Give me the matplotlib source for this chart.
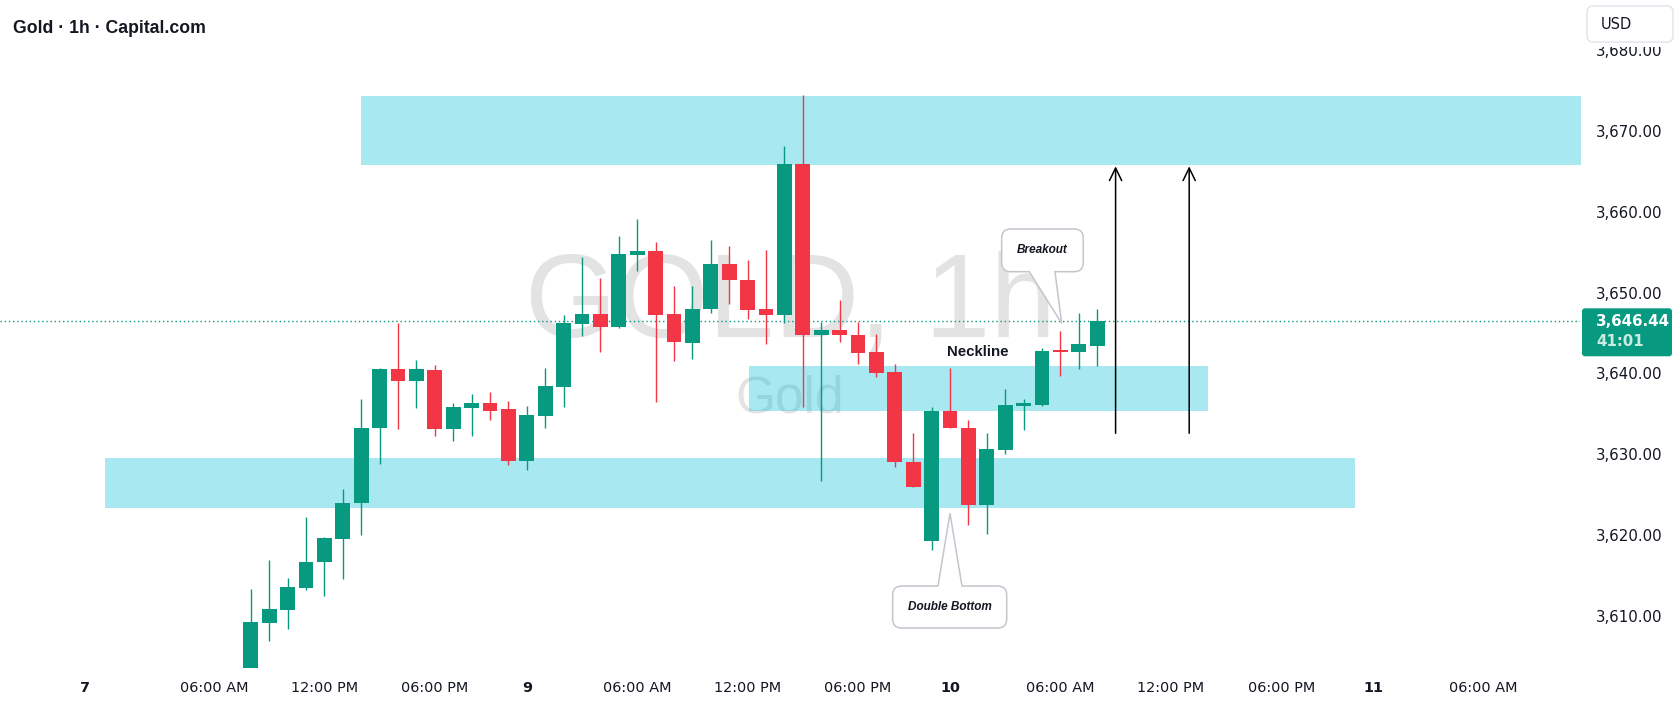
"""
Gold 1h chart with double bottom / neckline breakout annotations.
"""

import numpy as np
import matplotlib.pyplot as plt
import matplotlib.transforms as mtransforms
from matplotlib.path import Path
from matplotlib.patches import PathPatch, FancyBboxPatch, Rectangle

plt.rcParams["font.family"] = "DejaVu Sans"

W, H, DPI = 1680, 710, 100
GREEN = "#089981"
RED = "#F23645"
TEXT = "#131722"
ZONE = "#00BCD4"
CALLOUT_EDGE = "#c4c6ce"

# hourly candles, first bar = 08:00 on the 8th
opens = [3602.5, 3609.1, 3610.7, 3613.5, 3616.7, 3619.5, 3624.0, 3633.2, 3640.5, 3639.0,
         3640.4, 3633.1, 3635.7, 3636.4, 3635.6, 3629.2, 3634.7, 3638.3, 3646.1, 3647.4,
         3645.7, 3654.6, 3655.1, 3647.3, 3643.8, 3647.9, 3653.5, 3651.6, 3647.9, 3647.2,
         3665.9, 3644.7, 3645.4, 3644.8, 3642.6, 3640.2, 3629.1, 3619.3, 3635.3, 3633.3,
         3623.7, 3630.5, 3636.0, 3636.1, 3642.8, 3642.6, 3643.4]
highs = [3613.4, 3616.9, 3614.7, 3622.3, 3619.8, 3625.7, 3636.8, 3640.7, 3646.2, 3641.6,
         3641.0, 3636.4, 3637.5, 3637.7, 3636.6, 3636.0, 3640.7, 3647.2, 3654.4, 3651.8,
         3657.0, 3659.1, 3656.2, 3650.8, 3650.8, 3656.5, 3655.8, 3654.0, 3655.2, 3668.1,
         3674.4, 3646.3, 3649.1, 3646.3, 3644.9, 3641.1, 3632.6, 3635.8, 3640.7, 3634.3,
         3632.6, 3638.1, 3636.8, 3643.1, 3645.2, 3647.5, 3647.9]
lows = [3601.5, 3606.9, 3608.4, 3613.2, 3612.5, 3614.6, 3620.0, 3628.8, 3633.1, 3635.7,
        3632.3, 3631.7, 3632.3, 3634.3, 3628.7, 3628.1, 3633.3, 3635.8, 3644.6, 3642.6,
        3645.6, 3652.6, 3636.5, 3641.5, 3641.8, 3647.5, 3648.6, 3646.7, 3643.6, 3646.2,
        3635.9, 3626.7, 3643.9, 3641.1, 3639.6, 3628.4, 3626.0, 3618.2, 3633.2, 3621.3,
        3620.1, 3630.0, 3633.0, 3636.0, 3639.7, 3640.6, 3640.9]
closes = [3609.25, 3610.9, 3613.6, 3616.7, 3619.7, 3624.0, 3633.3, 3640.5, 3639.0, 3640.5,
          3633.1, 3635.8, 3636.4, 3635.3, 3629.2, 3634.8, 3638.4, 3646.2, 3647.4, 3645.7,
          3654.8, 3655.1, 3647.2, 3643.9, 3648.0, 3653.5, 3651.5, 3647.8, 3647.2, 3665.9,
          3644.7, 3645.4, 3644.7, 3642.5, 3640.1, 3629.1, 3626.0, 3635.3, 3633.2, 3623.7,
          3630.6, 3636.1, 3636.3, 3642.8, 3642.7, 3643.6, 3646.44]
last_price = 3646.44
countdown = "41:01"

tick_pos = [-9, -2, 4, 10, 15, 21, 27, 33, 38, 44, 50, 56, 61, 67]
tick_labels = ["7", "06:00 AM", "12:00 PM", "06:00 PM", "9", "06:00 AM", "12:00 PM",
               "06:00 PM", "10", "06:00 AM", "12:00 PM", "06:00 PM", "11", "06:00 AM"]
day_labels = ["7", "9", "10", "11"]
price_ticks = [3610, 3620, 3630, 3640, 3650, 3660, 3670, 3680]

# supply / neckline / demand zones
zone_x0 = [6.0, 27.05, -7.9]
zone_x1 = [80.0, 52.0, 60.0]
zone_lo = [3665.8, 3635.3, 3623.3]
zone_hi = [3674.25, 3640.9, 3629.5]

target_x = [47, 51]
target_from = 3632.6
target_to = 3665.6


def callout_path(cx, cy, w, h, r, b0, b1, side):
    # rounded box with a pointer whose tip sits at (0, 0); units are pixels
    l, rt, b, t = cx - w / 2, cx + w / 2, cy - h / 2, cy + h / 2
    verts = [(l + r, b)]
    codes = [Path.MOVETO]
    if side == "bottom":
        verts += [(b0, b), (0, 0), (b1, b)]
        codes += [Path.LINETO] * 3
    verts += [(rt - r, b), (rt, b), (rt, b + r), (rt, t - r), (rt, t), (rt - r, t)]
    codes += [Path.LINETO, Path.CURVE3, Path.CURVE3, Path.LINETO, Path.CURVE3, Path.CURVE3]
    if side == "top":
        verts += [(b1, t), (0, 0), (b0, t)]
        codes += [Path.LINETO] * 3
    verts += [(l + r, t), (l, t), (l, t - r), (l, b + r), (l, b), (l + r, b), (l + r, b)]
    codes += [Path.LINETO, Path.CURVE3, Path.CURVE3, Path.LINETO, Path.CURVE3, Path.CURVE3,
              Path.CLOSEPOLY]
    return Path(verts, codes)


def pixel_anchor(fig, x, y, base):
    return mtransforms.Affine2D().scale(fig.dpi / 100.0) + mtransforms.ScaledTranslation(x, y, base)


fig = plt.figure(figsize=(W / DPI, H / DPI), dpi=DPI)
ax = fig.add_axes([0, 42 / H, 1580 / W, 668 / H])

n = len(opens)
idx = np.arange(n)
o, hi, lo, c = map(np.array, (opens, highs, lows, closes))
up = c >= o
colors = np.where(up, GREEN, RED)

# watermark
ax.text(0.5, 0.496, "GOLD, 1h", transform=ax.transAxes, ha="center", va="baseline",
        fontsize=85, family="Liberation Sans", color="#e3e3e3", zorder=0)
ax.text(0.5, 0.382, "Gold", transform=ax.transAxes, ha="center", va="baseline",
        fontsize=37, family="Liberation Sans", color="#e3e3e3", zorder=0)

for x0, x1, y0, y1 in zip(zone_x0, zone_x1, zone_lo, zone_hi):
    ax.fill_between([x0, x1], y0, y1, color=ZONE, alpha=0.34, linewidth=0, zorder=1)

ax.axhline(last_price, color=GREEN, lw=1.0, linestyle=(0, (1, 2)), zorder=2)

# candles
ax.vlines(idx, lo, hi, colors=colors, lw=1.0, zorder=3)
body_lo = np.minimum(o, c)
body_h = np.maximum(np.abs(c - o), 0.15)
ax.bar(idx, body_h, bottom=body_lo, width=0.8, color=colors, linewidth=0, zorder=4)

# measured move arrows
for tx in target_x:
    ax.annotate("", xy=(tx, target_to), xytext=(tx, target_from),
                arrowprops=dict(arrowstyle="->,head_length=0.45,head_width=0.22",
                                color="black", lw=1.1, mutation_scale=20,
                                shrinkA=0, shrinkB=0), zorder=5)

ax.text(39.51, 3642.7, "Neckline", ha="center", va="center", fontsize=10.8,
        family="Liberation Sans", fontweight="bold", color=TEXT, zorder=6)

# callouts: tip in data coords, box offset/size in pixels
callouts = [
    ("Breakout", 44.07, 3646.2, -19.2, 72.9, 81.6, 42.7, -32.4, -6.7, "bottom"),
    ("Double Bottom", 38.0, 3622.7, -0.3, -93.7, 114.0, 42.0, -12.0, 12.0, "top"),
]
for label, tx, ty, dx, dy, bw, bh, b0, b1, side in callouts:
    tr = pixel_anchor(fig, tx, ty, ax.transData)
    path = callout_path(dx, dy, bw, bh, 9, b0, b1, side)
    ax.add_patch(PathPatch(path, transform=tr, facecolor="white", edgecolor=CALLOUT_EDGE,
                           lw=1.1, zorder=7, clip_on=False))
    ax.annotate(label, xy=(tx, ty), xytext=(dx * 0.72, dy * 0.72), textcoords="offset points",
                ha="center", va="center", fontsize=8.5, family="Liberation Sans",
                fontstyle="italic", fontweight="bold", color=TEXT, zorder=8)

ax.set_xlim(-13.63, 72.24)
ax.set_ylim(3603.58, 3686.16)

ax.set_xticks(tick_pos)
ax.set_xticklabels(tick_labels)
for t in ax.get_xticklabels():
    if t.get_text() in day_labels:
        t.set_fontweight("bold")
ax.set_yticks(price_ticks)
ax.set_yticklabels([f"{p:,.2f}" for p in price_ticks])
ax.yaxis.tick_right()
ax.tick_params(axis="x", length=0, pad=9.5, labelsize=10.4, labelcolor=TEXT)
ax.tick_params(axis="y", length=0, pad=11.5, labelsize=10.8, labelcolor=TEXT)
for s in ax.spines.values():
    s.set_visible(False)

# last price tag on the price scale
blend = mtransforms.blended_transform_factory(ax.transAxes, ax.transData)
tag_tr = pixel_anchor(fig, 1.0, last_price, blend)
ax.add_patch(FancyBboxPatch((2, -35), 90, 48, boxstyle="round,pad=0,rounding_size=3",
                            transform=tag_tr, facecolor=GREEN, edgecolor="none",
                            clip_on=False, zorder=9))
ax.text(16, 0, f"{last_price:,.2f}", transform=tag_tr, ha="left", va="center",
        fontsize=10.8, fontweight="bold", color="white", clip_on=False, zorder=10)
ax.text(16, -20.6, countdown, transform=tag_tr, ha="left", va="center",
        fontsize=10.8, fontweight="bold", color="#c9ebe2", clip_on=False, zorder=10)

# header and currency box (the box area hides the top of the scale)
fig.text(12.7 / W, 1 - 33 / H, "Gold · 1h · Capital.com", ha="left", va="baseline",
         fontsize=12.7, family="Liberation Sans", fontweight="bold", color=TEXT)
fig.add_artist(Rectangle((1582 / W, 1 - 47 / H), 98 / W, 47 / H, transform=fig.transFigure,
                         facecolor="white", edgecolor="none", zorder=19))
fig.add_artist(FancyBboxPatch((1587 / W, 1 - 42 / H), 86 / W, 36 / H,
                              boxstyle=f"round,pad=0,rounding_size={6 / W}",
                              mutation_aspect=W / H, transform=fig.transFigure,
                              facecolor="white", edgecolor="#e0e3eb", lw=1.0, zorder=20))
fig.text(1601 / W, 1 - 24.5 / H, "USD", ha="left", va="center", fontsize=10.5,
         color=TEXT, zorder=21)

fig.savefig("out.png", dpi=DPI, facecolor="white")
